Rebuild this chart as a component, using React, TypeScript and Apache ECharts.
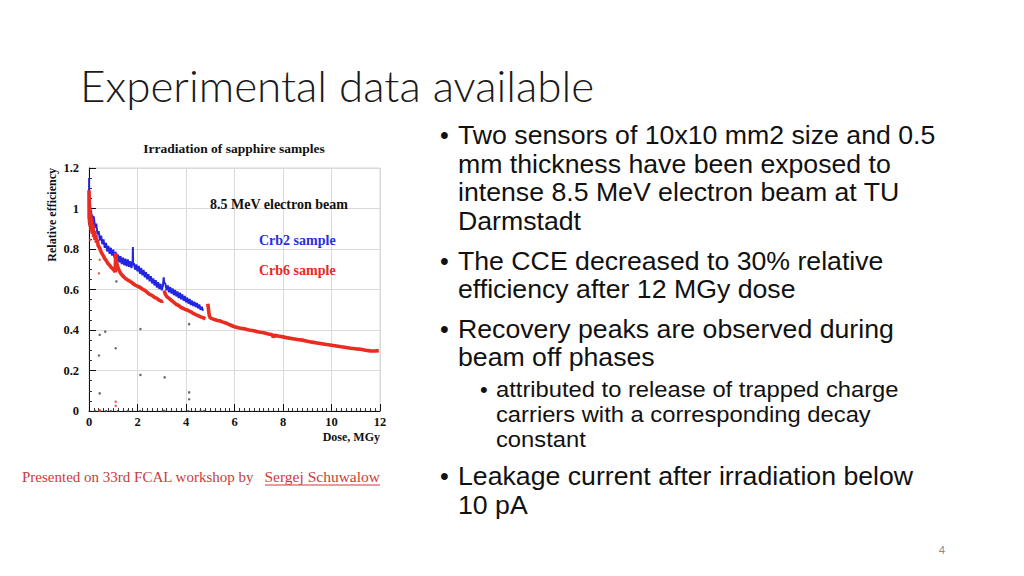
import React, { useEffect, useRef } from "react";
import * as echarts from "echarts";

// ---- Data ----
const xTicks = [0, 2, 4, 6, 8, 10, 12];
const yTicks = [0, 0.2, 0.4, 0.6, 0.8, 1, 1.2];

// Crb6 sample (red), null = beam-off gap
const crb6Dose = [
  0.0, 0.005, 0.01, 0.02, 0.03, 0.05, 0.07, 0.09, 0.11, 0.13, 0.16, 0.19, 0.22, 0.25, 0.28, 0.31,
  0.34, 0.38, 0.42, 0.46, 0.5, 0.55, 0.6, 0.65, 0.7, 0.75, 0.8, 0.85, 0.9, 0.95, 1.0, 1.05, 1.08,
  1.1, 1.12, 1.15, 1.2, 1.25, 1.3, 1.4, 1.5, 1.6, 1.7, 1.8, 1.9, 2.0, 2.1, 2.2, 2.3, 2.4,
  2.5, 2.6, 2.7, 2.8, 2.9, 3.0, 3.05, 3.07, 3.1, 3.15, 3.2, 3.3, 3.4, 3.5, 3.6, 3.7, 3.8,
  3.9, 4.0, 4.1, 4.2, 4.3, 4.4, 4.5, 4.6, 4.7, 4.8, 4.85, 4.9, 4.93, 4.96, 5.0, 5.1, 5.2,
  5.3, 5.4, 5.5, 5.6, 5.7, 5.8, 5.9, 6.0, 6.2, 6.4, 6.6, 6.8, 7.0, 7.2, 7.4, 7.55, 7.6, 7.65,
  7.8, 8.0, 8.2, 8.4, 8.6, 8.8, 9.0, 9.2, 9.4, 9.6, 9.8, 10.0, 10.2, 10.4, 10.6, 10.8, 11.0,
  11.2, 11.4, 11.6, 11.8, 11.95,
];
const crb6Eff = [
  1.09, 0.95, 1.05, 0.93, 1.0, 0.91, 0.97, 0.89, 0.95, 0.875, 0.92, 0.86, 0.89, 0.845, 0.87, 0.83,
  0.845, 0.815, 0.81, 0.8, 0.785, 0.775, 0.765, 0.752, 0.745, 0.735, 0.726, 0.72, 0.711, 0.705, 0.7, 0.692, 0.686,
  0.78, 0.75, 0.726, 0.706, 0.692, 0.681, 0.666, 0.655, 0.646, 0.64, 0.631, 0.622, 0.616, 0.611, 0.602, 0.596, 0.586,
  0.576, 0.571, 0.561, 0.556, 0.546, 0.541, 0.545, null, 0.595, 0.576, 0.566, 0.556, 0.546, 0.536, 0.526, 0.521, 0.511,
  0.506, 0.5, 0.496, 0.49, 0.482, 0.476, 0.471, 0.465, 0.461, 0.455, null, 0.53, 0.5, 0.472, 0.46, 0.455, 0.451,
  0.447, 0.445, 0.44, 0.436, 0.432, 0.426, 0.421, 0.416, 0.41, 0.406, 0.4, 0.396, 0.39, 0.386, 0.38, 0.376, 0.364, 0.374,
  0.37, 0.366, 0.361, 0.357, 0.353, 0.35, 0.345, 0.34, 0.336, 0.332, 0.328, 0.325, 0.321, 0.317, 0.314, 0.31, 0.307,
  0.305, 0.3, 0.297, 0.296, 0.298,
];

// Crb2 sample (blue), noisy band
const crb2Dose = [
  0.0, 0.005, 0.01, 0.02, 0.03, 0.05, 0.07, 0.09, 0.11, 0.13, 0.15, 0.17,
  0.2, 0.25, 0.3, 0.35, 0.4, 0.45, 0.5, 0.55, 0.6, 0.65, 0.7, 0.75, 0.8, 0.85, 0.9, 0.95,
  1.0, 1.05, 1.1, 1.15, 1.2, 1.25, 1.3, 1.35, 1.4, 1.45, 1.5, 1.55, 1.6, 1.65, 1.7, 1.75, 1.8,
  1.81, 1.82, 1.85, 1.9, 1.95, 2.0, 2.05, 2.1, 2.15, 2.2, 2.25, 2.3, 2.35, 2.4, 2.45, 2.5,
  2.55, 2.6, 2.65, 2.7, 2.75, 2.8, 2.85, 2.9, 2.95, 3.0, 3.05, 3.08, 3.1, 3.15, 3.2, 3.25,
  3.3, 3.35, 3.4, 3.45, 3.5, 3.55, 3.6, 3.65, 3.7, 3.75, 3.8, 3.85, 3.9, 3.95, 4.0, 4.05,
  4.1, 4.15, 4.2, 4.25, 4.3, 4.35, 4.4, 4.45, 4.5, 4.55, 4.6, 4.65, 4.7,
];
const crb2Eff = [
  0.92, 1.15, 0.95, 1.08, 0.94, 1.02, 0.93, 0.99, 0.92, 0.97, 0.92, 0.96,
  0.958, 0.905, 0.925, 0.872, 0.888, 0.842, 0.866, 0.824, 0.848, 0.806, 0.83, 0.788, 0.815, 0.776, 0.806, 0.768,
  0.797, 0.756, 0.786, 0.745, 0.772, 0.734, 0.765, 0.726, 0.757, 0.72, 0.752, 0.715, 0.748, 0.712, 0.74, 0.706, 0.738,
  0.81, 0.72, 0.73, 0.698, 0.724, 0.69, 0.716, 0.678, 0.706, 0.67, 0.697, 0.66, 0.686, 0.65, 0.676, 0.64,
  0.666, 0.63, 0.655, 0.62, 0.646, 0.61, 0.636, 0.602, 0.628, 0.596, 0.62, 0.66, 0.635, 0.628, 0.596, 0.62,
  0.586, 0.612, 0.58, 0.605, 0.572, 0.598, 0.566, 0.59, 0.558, 0.584, 0.552, 0.576, 0.545, 0.568, 0.537, 0.56,
  0.53, 0.553, 0.523, 0.545, 0.518, 0.54, 0.513, 0.533, 0.507, 0.526, 0.5, 0.514, 0.495,
];

// isolated stray points
const strayDarkDose = [0.44, 0.41, 0.44, 0.67, 1.1, 1.13, 2.12, 2.12, 3.12, 4.13, 4.13, 4.13, 0.25, 0.7, 0.9, 1.2, 1.6, 2.1, 3.05, 3.1, 4.1, 4.6, 4.75];
const strayDarkEff = [0.376, 0.274, 0.087, 0.392, 0.31, 0.64, 0.405, 0.178, 0.166, 0.429, 0.092, 0.058, 0, 0, 0, 0, 0, 0, 0, 0, 0, 0, 0];
const strayRedDose = [0.44, 0.44, 0.41, 1.1, 1.1, 0.42, 0.46, 0.05];
const strayRedEff = [0.796, 0.747, 0.68, 0.046, 0.026, 0.003, 0.003, 0.845];

const slideTitle = "Experimental data available";
const chartTitle = "Irradiation of sapphire samples";
const beamLabel = "8.5 MeV electron beam";
const crb2Label = "Crb2 sample";
const crb6Label = "Crb6 sample";
const yName = "Relative efficiency";
const xName = "Dose, MGy";

const bulletLines: { text: string; level: number; bullet: boolean; mid: number }[] = [
  { text: "Two sensors of 10x10 mm2 size and 0.5", level: 1, bullet: true, mid: 136 },
  { text: "mm thickness have been exposed to", level: 1, bullet: false, mid: 165 },
  { text: "intense 8.5 MeV electron beam at TU", level: 1, bullet: false, mid: 193 },
  { text: "Darmstadt", level: 1, bullet: false, mid: 222 },
  { text: "The CCE decreased to 30% relative", level: 1, bullet: true, mid: 262 },
  { text: "efficiency after 12 MGy dose", level: 1, bullet: false, mid: 290 },
  { text: "Recovery peaks are observed during", level: 1, bullet: true, mid: 330 },
  { text: "beam off phases", level: 1, bullet: false, mid: 358 },
  { text: "attributed to release of trapped charge", level: 2, bullet: true, mid: 390 },
  { text: "carriers with a corresponding decay", level: 2, bullet: false, mid: 415 },
  { text: "constant", level: 2, bullet: false, mid: 440 },
  { text: "Leakage current after irradiation below", level: 1, bullet: true, mid: 477 },
  { text: "10 pA", level: 1, bullet: false, mid: 506 },
];
const creditText = "Presented on 33rd FCAL workshop by ";
const creditName = "Sergej Schuwalow";
const pageNumber = "4";

const zip = (xs: number[], ys: (number | null)[]) => xs.map((x, i) => [x, ys[i] === null ? "-" : ys[i]]);

export default function App() {
  const ref = useRef<HTMLDivElement>(null);
  useEffect(() => {
    if (!ref.current) return;
    const chart = echarts.init(ref.current, null, { renderer: "svg" });
    const serif = "'Liberation Serif', 'Times New Roman', serif";
    const sans = "Lato, 'Open Sans', sans-serif";
    const body = "'Liberation Sans', Arial, sans-serif";
    const L1 = 25;
    const L2 = 22;
    const graphics: any[] = [];
    const txt = (x: number, y: number, text: string, s: any, extra: any = {}) =>
      graphics.push({ type: "text", x, y, z: 100, ...extra, style: { text, textVerticalAlign: "middle", ...s } });

    txt(80, 100 - 0.35 * 44, slideTitle, { fontFamily: sans, fontSize: 44, fontWeight: 300, fill: "#1a1a1a", textAlign: "left" });
    bulletLines.forEach((ln) => {
      const fs = ln.level === 1 ? L1 : L2;
      const sx = ln.level === 1 ? 1.067 : 1.08;
      const tx = ln.level === 1 ? 458 : 496;
      const bx = ln.level === 1 ? 440 : 480;
      const cy = ln.mid - 0.04 * fs;
      txt(tx, cy, ln.text, { fontFamily: body, fontSize: fs, fill: "#111", textAlign: "left" }, { scaleX: sx });
      if (ln.bullet) txt(bx, cy, "•", { fontFamily: body, fontSize: fs, fill: "#111", textAlign: "left" });
    });
    txt(942, 549, pageNumber, { fontFamily: sans, fontSize: 11, fill: "#888", textAlign: "center" });
    txt(22, 482 - 0.35 * 15, creditText, { fontFamily: serif, fontSize: 15, fill: "#cc3b3b", textAlign: "left" });
    txt(380, 482 - 0.35 * 15.5, creditName, { fontFamily: serif, fontSize: 15.5, fill: "#cc3b3b", textAlign: "right" });
    graphics.push({ type: "line", z: 100, shape: { x1: 265, y1: 485, x2: 380, y2: 485 }, style: { stroke: "#cc3b3b", lineWidth: 1 } });

    // chart annotations
    txt(234, 153 - 0.35 * 13.5, chartTitle, { fontFamily: serif, fontSize: 13.5, fontWeight: "bold", fill: "#111", textAlign: "center" });
    txt(210, 209 - 0.35 * 14, beamLabel, { fontFamily: serif, fontSize: 14, fontWeight: "bold", fill: "#111", textAlign: "left" });
    txt(259, 245 - 0.35 * 14, crb2Label, { fontFamily: serif, fontSize: 14, fontWeight: "bold", fill: "#2530d8", textAlign: "left" });
    txt(259, 275 - 0.35 * 14, crb6Label, { fontFamily: serif, fontSize: 14, fontWeight: "bold", fill: "#e62a22", textAlign: "left" });
    txt(380, 441 - 0.35 * 12, xName, { fontFamily: serif, fontSize: 12, fontWeight: "bold", fill: "#111", textAlign: "right" });
    txt(52, 168, yName, { fontFamily: serif, fontSize: 12, fontWeight: "bold", fill: "#111", textAlign: "right" }, { rotation: Math.PI / 2 });

    chart.setOption({
      animation: false,
      backgroundColor: "#ffffff",
      grid: { left: 89, right: 644, top: 168, bottom: 165, show: true, borderColor: "#d4d4d4", borderWidth: 1, containLabel: false },
      xAxis: {
        type: "value", min: xTicks[0], max: xTicks[xTicks.length - 1], interval: 2,
        axisLine: { show: true, onZero: false, lineStyle: { color: "#111", width: 1 } },
        axisTick: { show: true, inside: true, length: 7, lineStyle: { color: "#111" } },
        minorTick: { show: true, splitNumber: 10, length: 3, lineStyle: { color: "#333" } },
        splitLine: { show: true, lineStyle: { color: "#dadada", width: 1 } },
        axisLabel: { fontFamily: serif, fontWeight: "bold", fontSize: 12.5, color: "#111", margin: 4 },
      },
      yAxis: {
        type: "value", min: yTicks[0], max: yTicks[yTicks.length - 1], interval: 0.2,
        axisLine: { show: true, onZero: false, lineStyle: { color: "#111", width: 1 } },
        axisTick: { show: true, inside: true, length: 7, lineStyle: { color: "#111" } },
        minorTick: { show: true, splitNumber: 4, length: 3, lineStyle: { color: "#333" } },
        splitLine: { show: true, lineStyle: { color: "#dadada", width: 1 } },
        axisLabel: { fontFamily: serif, fontWeight: "bold", fontSize: 12.5, color: "#111", margin: 10, formatter: (v: number) => String(Math.round(v * 10) / 10) },
      },
      graphic: graphics,
      series: [
        {
          name: "Crb2 sample", type: "line", data: zip(crb2Dose, crb2Eff), showSymbol: false, connectNulls: false,
          lineStyle: { color: "#2326e0", width: 2 }, itemStyle: { color: "#2326e0" }, z: 2,
        },
        {
          name: "Crb6 sample", type: "line", data: zip(crb6Dose, crb6Eff), showSymbol: false, connectNulls: false,
          lineStyle: { color: "#ea2b20", width: 3.6 }, itemStyle: { color: "#ea2b20" }, z: 3,
        },
        {
          name: "stray", type: "scatter", data: zip(strayDarkDose, strayDarkEff), symbolSize: 2.5,
          itemStyle: { color: "#444" }, z: 4,
        },
        {
          name: "stray red", type: "scatter", data: zip(strayRedDose, strayRedEff), symbolSize: 2.5,
          itemStyle: { color: "#e0403a" }, z: 4,
        },
      ],
    });
    return () => chart.dispose();
  }, []);
  return <div ref={ref} style={{ position: "fixed", left: 0, top: 0, width: 1024, height: 576 }} />;
}
